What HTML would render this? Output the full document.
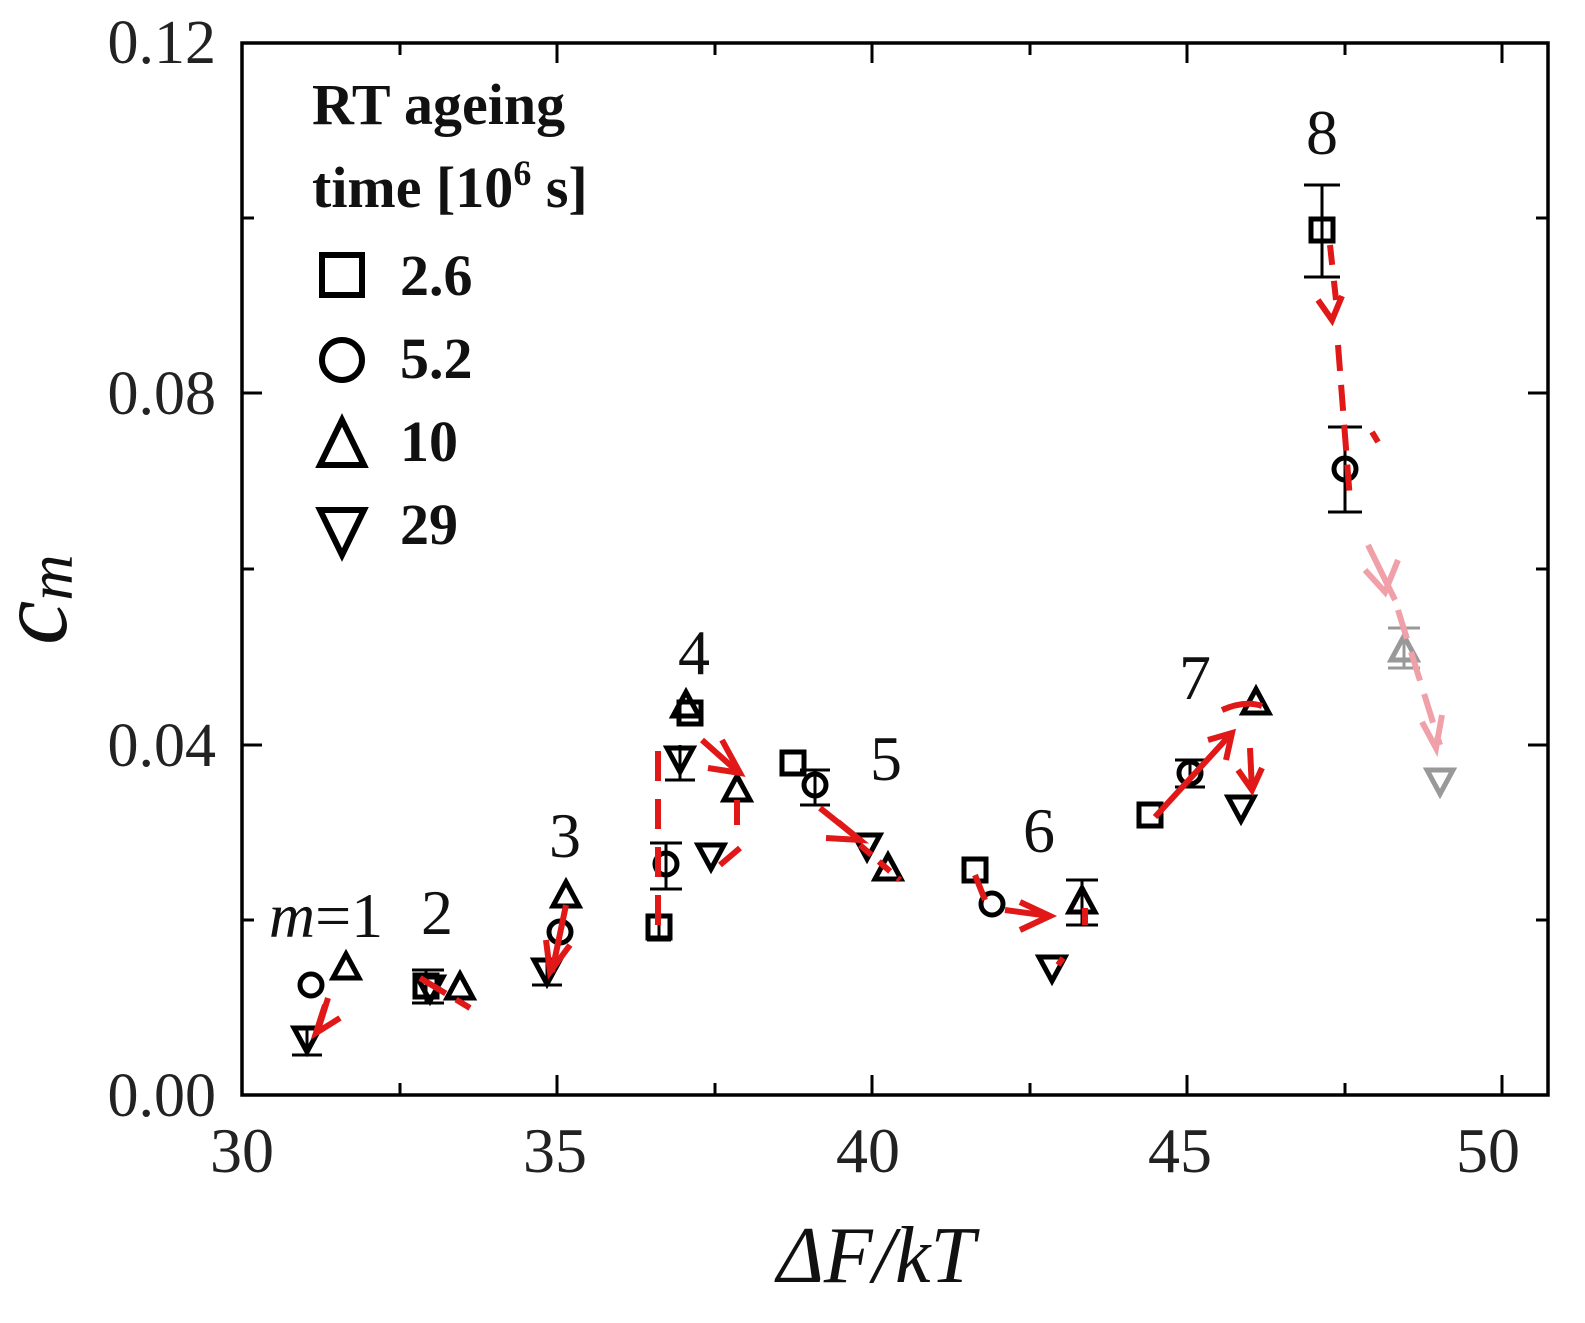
<!DOCTYPE html>
<html><head><meta charset="utf-8"><style>
html,body{margin:0;padding:0;background:#fff}
svg{display:block}
text{font-family:"Liberation Serif",serif}
</style></head><body>
<svg width="1585" height="1323" viewBox="0 0 1585 1323" xmlns="http://www.w3.org/2000/svg">
<defs>
<g id="sq"><rect x="-11" y="-11" width="22" height="22" fill="none" stroke="#000" stroke-width="5"/></g>
<g id="ci"><circle r="11" fill="none" stroke="#000" stroke-width="5"/></g>
<g id="tu"><polygon points="0,-14 13,10 -13,10" fill="none" stroke="#000" stroke-width="5"/></g>
<g id="td"><polygon points="0,14 13,-10 -13,-10" fill="none" stroke="#000" stroke-width="5"/></g>
<g id="tug"><polygon points="0,-14 13,10 -13,10" fill="none" stroke="#999" stroke-width="5"/></g>
<g id="tdg"><polygon points="0,14 13,-10 -13,-10" fill="none" stroke="#999" stroke-width="5"/></g>
</defs>
<rect x="242" y="43" width="1306" height="1052" fill="none" stroke="#000" stroke-width="3.5"/>
<g stroke="#000" stroke-width="3">
<line x1="557" y1="1095" x2="557" y2="1075"/><line x1="872" y1="1095" x2="872" y2="1075"/><line x1="1187" y1="1095" x2="1187" y2="1075"/><line x1="1502" y1="1095" x2="1502" y2="1075"/>
<line x1="400" y1="1095" x2="400" y2="1083"/><line x1="715" y1="1095" x2="715" y2="1083"/><line x1="1030" y1="1095" x2="1030" y2="1083"/><line x1="1345" y1="1095" x2="1345" y2="1083"/>
<line x1="557" y1="43" x2="557" y2="63"/><line x1="872" y1="43" x2="872" y2="63"/><line x1="1187" y1="43" x2="1187" y2="63"/><line x1="1502" y1="43" x2="1502" y2="63"/>
<line x1="400" y1="43" x2="400" y2="55"/><line x1="715" y1="43" x2="715" y2="55"/><line x1="1030" y1="43" x2="1030" y2="55"/><line x1="1345" y1="43" x2="1345" y2="55"/>
<line x1="242" y1="393" x2="262" y2="393"/><line x1="242" y1="745" x2="262" y2="745"/>
<line x1="242" y1="218" x2="254" y2="218"/><line x1="242" y1="569" x2="254" y2="569"/><line x1="242" y1="920" x2="254" y2="920"/>
<line x1="1548" y1="393" x2="1528" y2="393"/><line x1="1548" y1="745" x2="1528" y2="745"/>
<line x1="1548" y1="218" x2="1536" y2="218"/><line x1="1548" y1="569" x2="1536" y2="569"/><line x1="1548" y1="920" x2="1536" y2="920"/>
</g>
<g font-size="64" fill="#222" text-anchor="middle">
<text x="242" y="1172">30</text>
<text x="555" y="1172">35</text>
<text x="868" y="1172">40</text>
<text x="1180" y="1172">45</text>
<text x="1488" y="1172">50</text>
</g>
<g font-size="62" fill="#222" text-anchor="end">
<text x="216" y="63">0.12</text>
<text x="216" y="414">0.08</text>
<text x="216" y="766">0.04</text>
<text x="216" y="1116">0.00</text>
</g>
<text x="876" y="1282" font-size="80" font-style="italic" text-anchor="middle" fill="#111">ΔF/kT</text>
<g transform="translate(66,645) rotate(-90)"><text x="0" y="0" font-size="100" font-style="italic" fill="#111">c<tspan font-size="64" dy="6">m</tspan></text></g>
<g font-size="58" font-weight="bold" fill="#111">
<text x="312" y="124">RT ageing</text>
<text x="312" y="207">time [10<tspan font-size="36" dy="-22">6</tspan><tspan dy="22"> s]</tspan></text>
<text x="400" y="295">2.6</text>
<text x="400" y="378">5.2</text>
<text x="400" y="461">10</text>
<text x="400" y="544">29</text>
</g>
<rect x="322" y="255" width="40" height="40" fill="none" stroke="#000" stroke-width="6"/>
<circle cx="342" cy="360" r="20" fill="none" stroke="#000" stroke-width="6"/>
<polygon points="342,420 364,465 320,465" fill="none" stroke="#000" stroke-width="6"/>
<polygon points="342,555 364,510 320,510" fill="none" stroke="#000" stroke-width="6"/>
<g font-size="64" fill="#111" text-anchor="middle">
<text x="326" y="937"><tspan font-style="italic">m</tspan>=1</text>
<text x="437" y="934">2</text>
<text x="565" y="857">3</text>
<text x="694" y="674">4</text>
<text x="886" y="780">5</text>
<text x="1039" y="852">6</text>
<text x="1195" y="699">7</text>
<text x="1322" y="154">8</text>
</g>
<g stroke="#000" stroke-width="3">
<line x1="1322" y1="185" x2="1322" y2="277"/><line x1="1304" y1="185" x2="1340" y2="185"/><line x1="1304" y1="277" x2="1340" y2="277"/>
<line x1="1345" y1="427" x2="1345" y2="512"/><line x1="1328" y1="427" x2="1362" y2="427"/><line x1="1328" y1="512" x2="1362" y2="512"/>
<line x1="666" y1="843" x2="666" y2="889"/><line x1="650" y1="843" x2="682" y2="843"/><line x1="650" y1="889" x2="682" y2="889"/>
<line x1="1082" y1="880" x2="1082" y2="925"/><line x1="1066" y1="880" x2="1098" y2="880"/><line x1="1066" y1="925" x2="1098" y2="925"/>
<line x1="815" y1="770" x2="815" y2="805"/><line x1="800" y1="770" x2="830" y2="770"/><line x1="800" y1="805" x2="830" y2="805"/>
<line x1="1190" y1="760" x2="1190" y2="787"/><line x1="1175" y1="760" x2="1205" y2="760"/><line x1="1175" y1="787" x2="1205" y2="787"/>
<line x1="680" y1="745" x2="680" y2="780"/><line x1="665" y1="780" x2="695" y2="780"/>
<line x1="307" y1="1055" x2="307" y2="1030"/><line x1="292" y1="1055" x2="322" y2="1055"/>
<line x1="426" y1="1003" x2="426" y2="970"/><line x1="412" y1="1003" x2="444" y2="1003"/><line x1="412" y1="970" x2="444" y2="970"/>
<line x1="547" y1="985" x2="547" y2="960"/><line x1="532" y1="985" x2="562" y2="985"/>
<line x1="659" y1="940" x2="659" y2="912"/><line x1="647" y1="940" x2="671" y2="940"/>
</g>
<g stroke="#999" stroke-width="3">
<line x1="1404" y1="628" x2="1404" y2="668"/><line x1="1388" y1="628" x2="1420" y2="628"/><line x1="1388" y1="668" x2="1420" y2="668"/>
</g>
<use href="#ci" x="311" y="985"/><use href="#tu" x="346" y="968"/><use href="#td" x="307" y="1038"/>
<use href="#td" x="430" y="987"/><use href="#sq" x="426" y="986"/><use href="#tu" x="460" y="988"/>
<use href="#tu" x="566" y="896"/><use href="#ci" x="560" y="932"/><use href="#td" x="547" y="970"/>
<use href="#sq" x="659" y="927"/><use href="#ci" x="666" y="864"/><use href="#tu" x="686" y="706"/><use href="#sq" x="690" y="713"/><use href="#td" x="680" y="758"/><use href="#tu" x="737" y="790"/><use href="#td" x="711" y="855"/>
<use href="#sq" x="793" y="763"/><use href="#ci" x="815" y="785"/><use href="#td" x="867" y="845"/><use href="#tu" x="888" y="869"/>
<use href="#sq" x="975" y="870"/><use href="#ci" x="992" y="904"/><use href="#tu" x="1082" y="902"/><use href="#td" x="1052" y="967"/>
<use href="#sq" x="1150" y="815"/><use href="#ci" x="1190" y="773"/><use href="#tu" x="1256" y="703"/><use href="#td" x="1241" y="807"/>
<use href="#sq" x="1322" y="230"/><use href="#ci" x="1345" y="469"/><use href="#tug" x="1404" y="650"/><use href="#tdg" x="1440" y="780"/>
<g stroke="#e01818" stroke-width="6" fill="none" stroke-linecap="butt">
<path d="M328 998 L318 1030"/><path d="M340 1018 L316 1033 L325 1005"/>
<path d="M420 978 L470 1008" stroke-dasharray="30 12"/>
<path d="M566 905 L552 972"/><path d="M570 945 L550 972 L546 940"/>
<path d="M658 925 L658 740" stroke-dasharray="30 18"/>
<path d="M702 740 L738 772"/><path d="M722 740 L740 773 L708 768"/>
<path d="M737 800 L737 825"/><path d="M740 848 L720 865"/>
<path d="M820 808 L860 840"/><path d="M838 822 L860 840 L826 838"/>
<path d="M860 845 L900 880" stroke-dasharray="15 10"/>
<path d="M975 875 L985 900"/>
<path d="M1005 910 L1050 916"/><path d="M1020 902 L1050 916 L1020 930"/>
<path d="M1085 908 L1085 925"/><path d="M1058 965 L1063 958"/>
<path d="M1155 817 L1230 735"/><path d="M1208 740 L1232 733 L1226 760"/>
<path d="M1222 710 Q1245 700 1262 706"/>
<path d="M1250 748 L1252 790"/><path d="M1262 768 L1252 790 L1238 770"/>
<path d="M1330 245 L1336 300" stroke-dasharray="20 16"/>
<path d="M1318 300 L1332 320 L1342 296"/>
<path d="M1338 345 L1350 500" stroke-dasharray="26 14"/>
<path d="M1372 432 L1378 442"/>
</g>
<g stroke="#f0a0a8" stroke-width="6" fill="none">
<path d="M1368 545 L1395 600"/><path d="M1365 570 L1385 592 L1398 560"/>
<path d="M1398 610 L1440 745" stroke-dasharray="30 14"/>
<path d="M1422 722 L1436 748 L1442 715"/>
</g>
</svg>
</body></html>
